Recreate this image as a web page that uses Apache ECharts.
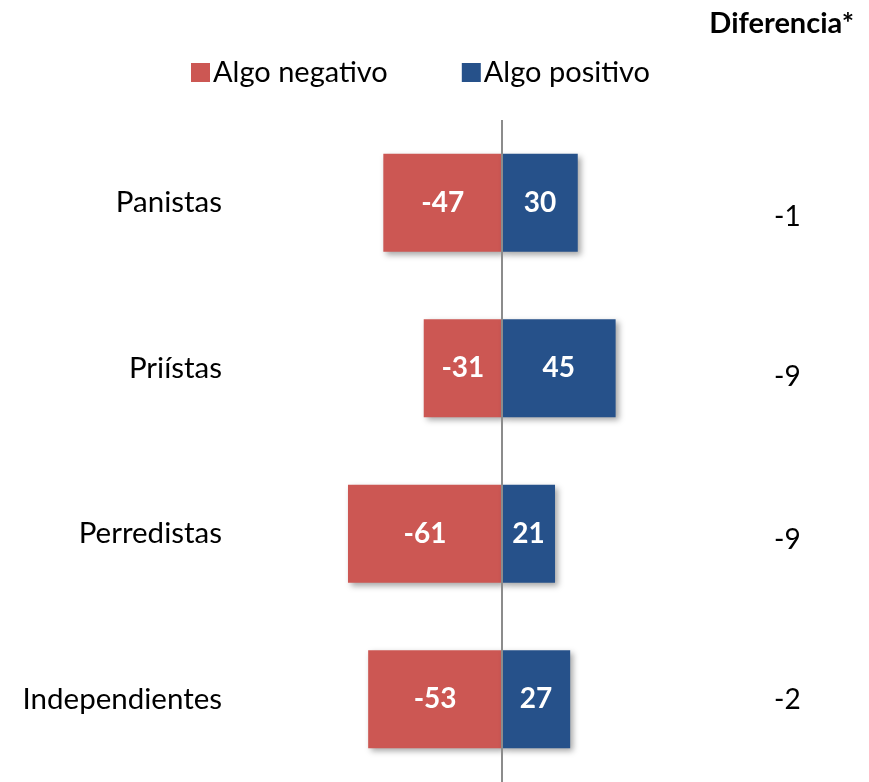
<!DOCTYPE html>
<html>
<head>
<meta charset="utf-8">
<script src="https://cdn.jsdelivr.net/npm/echarts@6/dist/echarts.min.js"></script>
<style>
  html, body { margin: 0; padding: 0; background: #fff; }
  #chart { width: 869px; height: 782px; }
</style>
</head>
<body>
<div id="chart"></div>
<script>
// datos
const categorias = ['Panistas', 'Priístas', 'Perredistas', 'Independientes']
const negativo = [-47, -31, -61, -53]
const positivo = [30, 45, 21, 27]
const diferencia = ['-1', '-9', '-9', '-2']

const fuente = 'Lato, "Open Sans", sans-serif'
const rojo = '#cc5753'
const azul = '#26518a'
const sombra = {
  shadowColor: 'rgba(0,0,0,0.35)',
  shadowBlur: 6,
  shadowOffsetX: 3,
  shadowOffsetY: 3
}

const chart = echarts.init(document.getElementById('chart'))

chart.setOption({
  animation: false,
  textStyle: { fontFamily: fuente },
  title: {
    text: 'Diferencia*',
    right: 10,
    top: 4,
    textStyle: { fontFamily: fuente, fontSize: 29, fontWeight: 'bold', color: '#000' }
  },
  legend: {
    left: 186,
    top: 53,
    itemWidth: 19,
    itemHeight: 19,
    itemGap: 74,
    icon: 'rect',
    textStyle: { fontFamily: fuente, fontSize: 29, color: '#000', padding: [0, 0, 0, -2] },
    data: ['Algo negativo', 'Algo positivo']
  },
  grid: {
    left: 300,
    top: 120,
    width: 404,
    height: 664
  },
  xAxis: {
    type: 'value',
    min: -80,
    max: 80,
    show: false
  },
  yAxis: [
    {
      type: 'category',
      inverse: true,
      data: categorias,
      axisLine: { show: false },
      axisTick: { show: false },
      axisLabel: {
        margin: 78,
        fontFamily: fuente,
        fontSize: 29.5,
        color: '#000'
      }
    },
    {
      type: 'category',
      inverse: true,
      position: 'right',
      data: diferencia,
      axisLine: { show: false },
      axisTick: { show: false },
      axisLabel: {
        margin: 70,
        align: 'left',
        fontFamily: fuente,
        fontSize: 28,
        color: '#000',
        formatter (val, i) {
          return `{d${i}|${val}}`
        },
        rich: {
          d0: { fontSize: 28, fontFamily: fuente, padding: [28, 0, 0, 0] },
          d1: { fontSize: 28, fontFamily: fuente, padding: [18, 0, 0, 0] },
          d2: { fontSize: 28, fontFamily: fuente, padding: [12, 0, 0, 0] },
          d3: { fontSize: 28, fontFamily: fuente, padding: [2, 0, 0, 0] }
        }
      }
    }
  ],
  series: [
    {
      name: 'Algo negativo',
      type: 'bar',
      stack: 'total',
      barWidth: 98,
      data: negativo,
      itemStyle: Object.assign({ color: rojo }, sombra),
      label: {
        show: true,
        position: 'inside',
        color: '#fff',
        fontFamily: fuente,
        fontSize: 28,
        fontWeight: 'bold'
      },
      markLine: {
        silent: true,
        symbol: 'none',
        label: { show: false },
        lineStyle: { color: '#8c8c8c', width: 2, type: 'solid' },
        data: [{ xAxis: 0 }],
        z: 5
      }
    },
    {
      name: 'Algo positivo',
      type: 'bar',
      stack: 'total',
      barWidth: 98,
      data: positivo,
      itemStyle: Object.assign({ color: azul }, sombra),
      label: {
        show: true,
        position: 'inside',
        color: '#fff',
        fontFamily: fuente,
        fontSize: 28,
        fontWeight: 'bold'
      }
    }
  ]
})
</script>
</body>
</html>
